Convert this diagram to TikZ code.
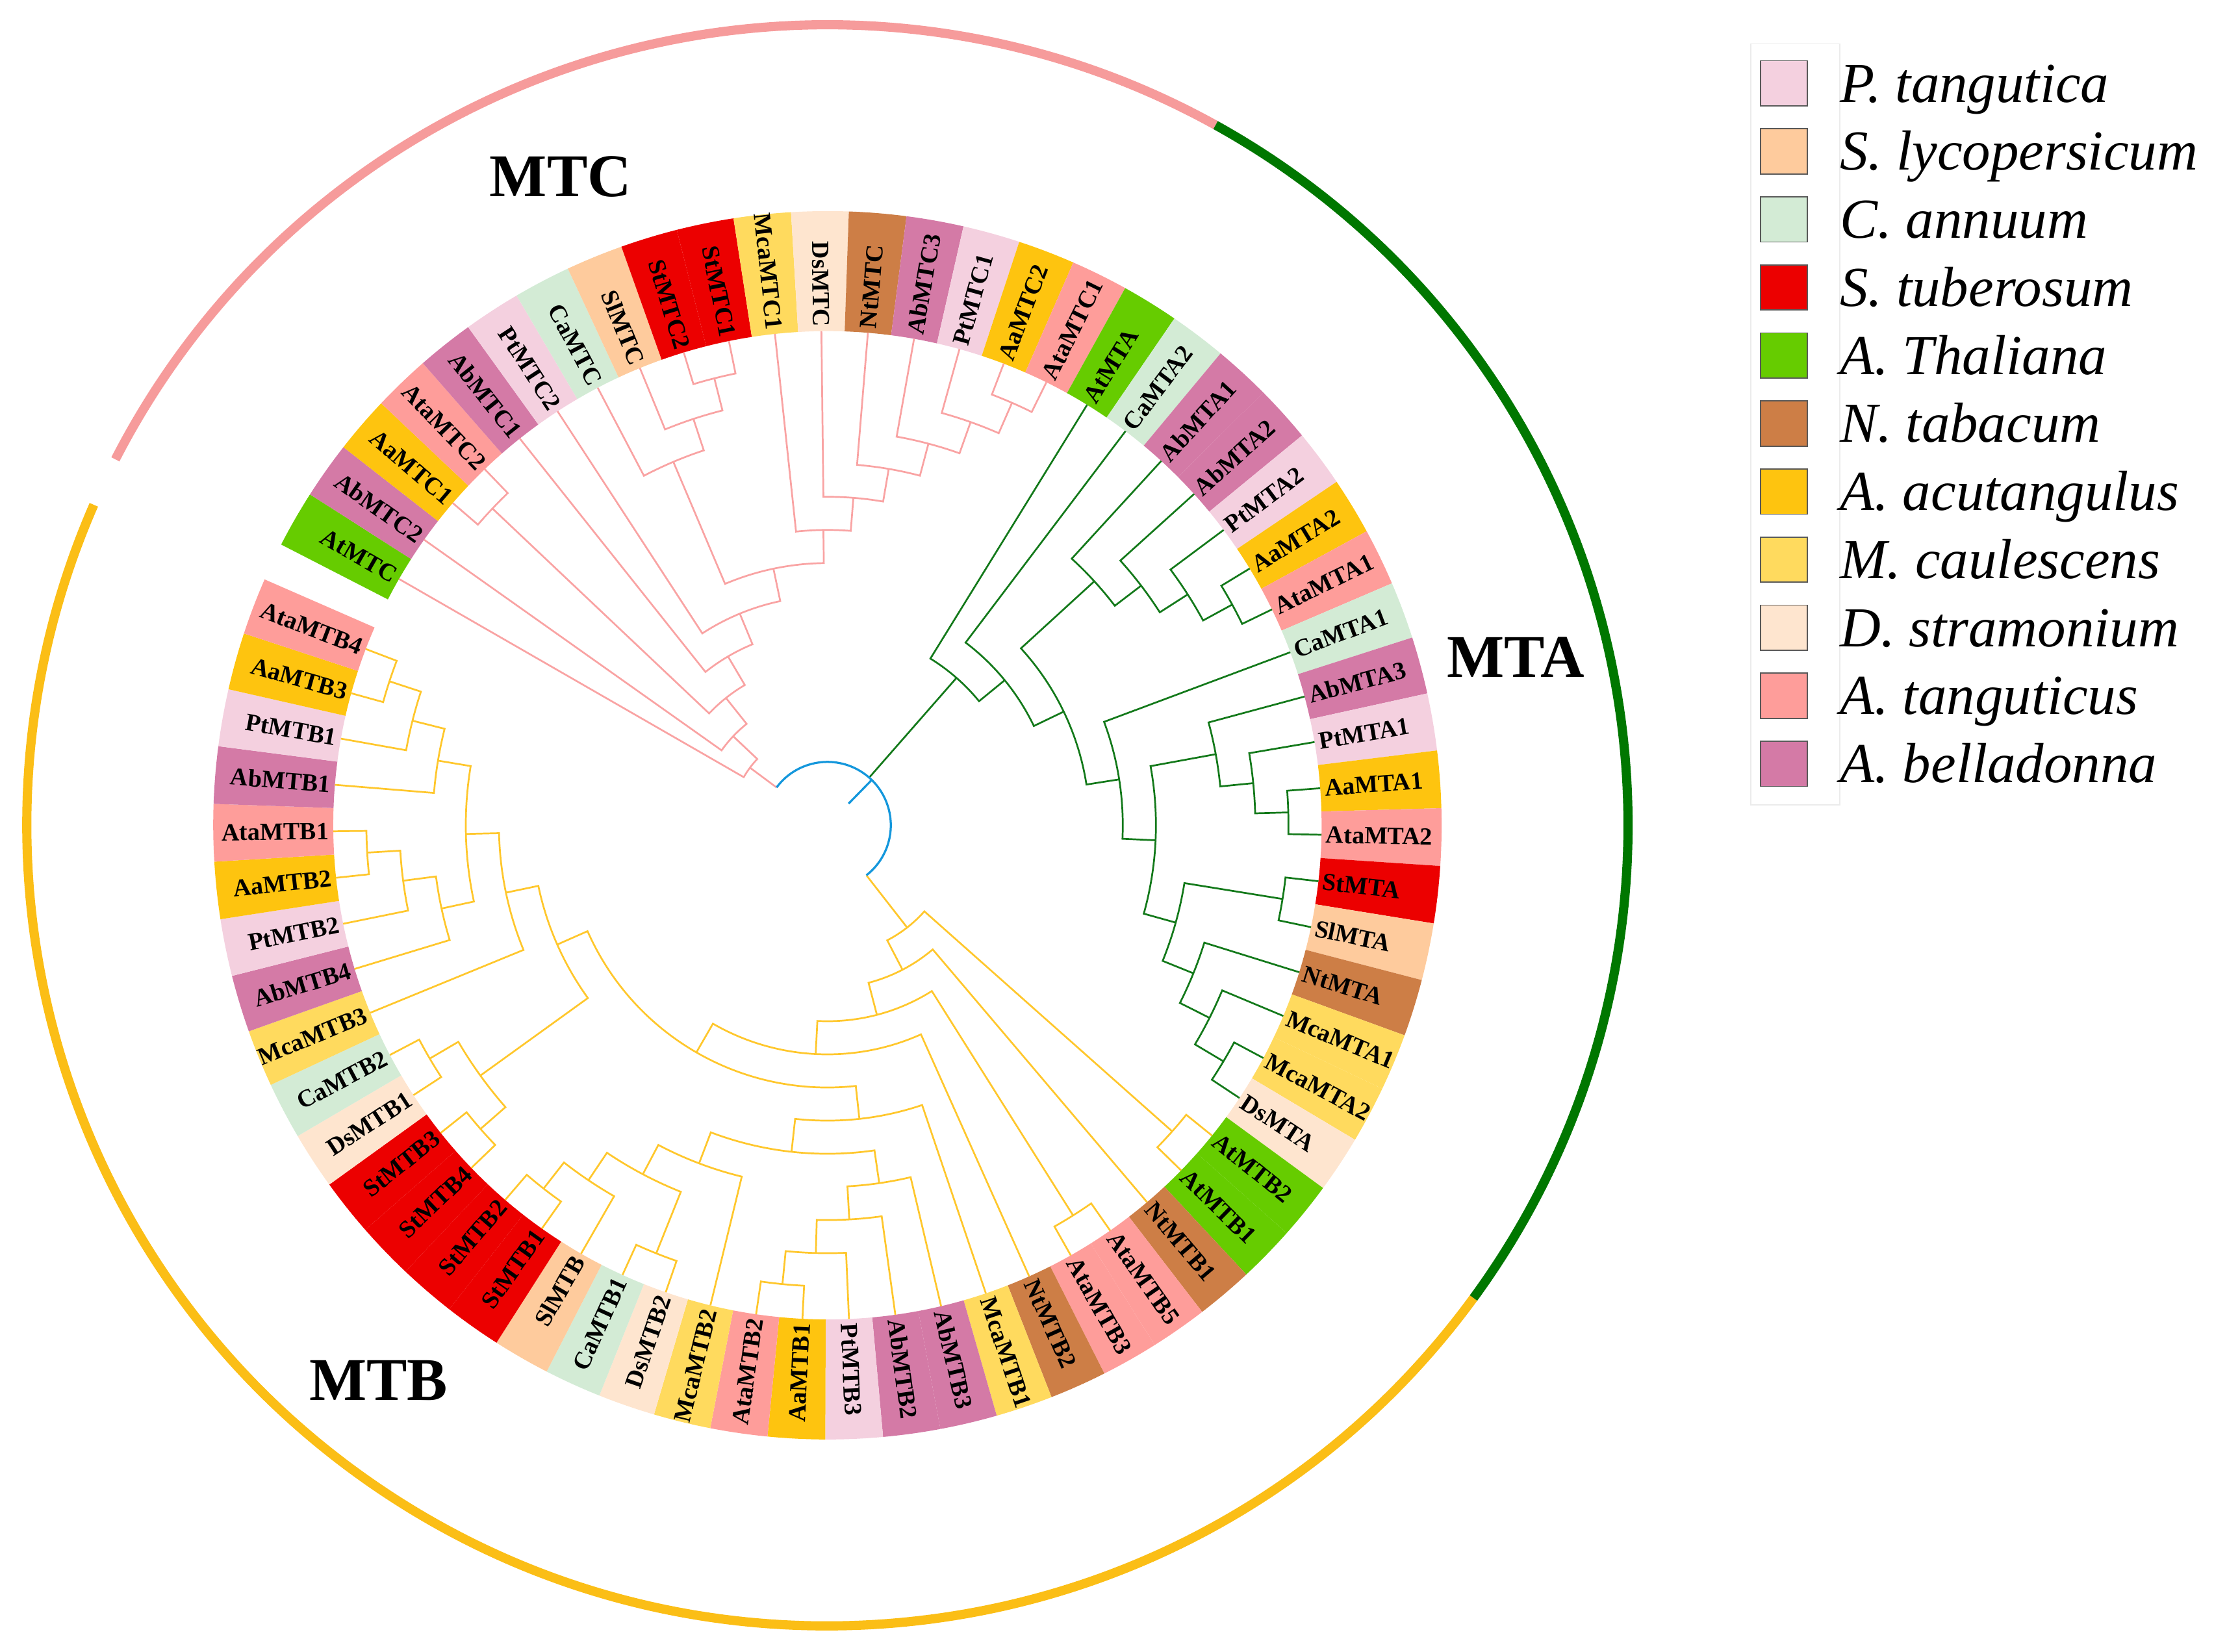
\documentclass[tikz,border=0pt]{standalone}
\usepackage{fontspec}
\setmainfont{Liberation Serif}
\definecolor{ptc}{HTML}{F4D0DF}
\definecolor{slc}{HTML}{FECB9D}
\definecolor{cac}{HTML}{D3EBD5}
\definecolor{stc}{HTML}{EC0000}
\definecolor{atc}{HTML}{66CC00}
\definecolor{ntc}{HTML}{CD7E46}
\definecolor{aac}{HTML}{FEC40F}
\definecolor{mcc}{HTML}{FFDA5E}
\definecolor{dsc}{HTML}{FEE5CF}
\definecolor{tac}{HTML}{FE9D9A}
\definecolor{abc}{HTML}{D47AA6}
\definecolor{mtcline}{HTML}{F9A3A3}
\definecolor{mtaline}{HTML}{13791A}
\definecolor{mtbline}{HTML}{FFC72C}
\definecolor{rootline}{HTML}{1497DC}
\definecolor{ringc}{HTML}{F69B9B}
\definecolor{ringa}{HTML}{007700}
\definecolor{ringb}{HTML}{FBBE16}
\def\setang#1#2{\expandafter\xdef\csname tang-#1\endcsname{#2}}
\def\getang#1{\csname tang-#1\endcsname}
% leaf: name, index, colour
\newcommand\tleaf[3]{%
  \pgfmathsetmacro\la{150.1-5.4*#2}%
  \pgfmathsetmacro\lb{\la+2.7}%
  \pgfmathsetmacro\lc{\la-2.7}%
  \setang{#1}{\la}%
  \fill[#3] (\lb:350pt) arc[start angle=\lb, end angle=\lc, radius=350pt] -- (\lc:435pt) arc[start angle=\lc, end angle=\lb, radius=435pt] -- cycle;
  \coordinate (#1) at (\la:350pt);
  \pgfmathtruncatemacro\lside{cos(\la)<0}%
  \ifnum\lside=1
    \pgfmathsetmacro\lr{\la+180}%
    \node[leaflab, anchor=east, rotate=\lr] (#1-t) at (\la:353pt) {#1};
  \else
    \node[leaflab, anchor=west, rotate=\la] (#1-t) at (\la:353pt) {#1};
  \fi
}
% join: name, height, child A, child B
\newcommand\tjoin[4]{%
  \edef\ja{\getang{#3}}\edef\jb{\getang{#4}}%
  \pgfmathsetmacro\jm{(\ja+\jb)/2}%
  \pgfmathsetmacro\jr{350-23.47*#2}%
  \setang{#1}{\jm}%
  \coordinate (#1) at (\jm:\jr pt);
  \draw (#3) -- (\ja:\jr pt) arc[start angle=\ja, end angle=\jb, radius=\jr pt] -- (#4);
}
\begin{document}
\begin{tikzpicture}[
  leaflab/.style={font=\fontsize{17.5}{17.5}\selectfont\bfseries, inner sep=0pt, text=black},
  legtext/.style={font=\fontsize{40}{40}\selectfont\itshape, anchor=base west, inner sep=0pt},
  cladelab/.style={font=\fontsize{43}{43}\selectfont\bfseries, inner sep=0pt},
  swatch/.style={draw=black!65, line width=0.8pt, minimum width=33pt, minimum height=32pt, inner sep=0pt},
  ring/.style={line width=6.5pt},
  tree/.style={line width=1.25pt},
]
\useasboundingbox (-586pt,-585.5pt) rectangle (982pt,584.5pt);

% ---------- leaves ----------
\tleaf{AtMTC}{0}{atc}
\tleaf{AbMTC2}{1}{abc}
\tleaf{AaMTC1}{2}{aac}
\tleaf{AtaMTC2}{3}{tac}
\tleaf{AbMTC1}{4}{abc}
\tleaf{PtMTC2}{5}{ptc}
\tleaf{CaMTC}{6}{cac}
\tleaf{SlMTC}{7}{slc}
\tleaf{StMTC2}{8}{stc}
\tleaf{StMTC1}{9}{stc}
\tleaf{McaMTC1}{10}{mcc}
\tleaf{DsMTC}{11}{dsc}
\tleaf{NtMTC}{12}{ntc}
\tleaf{AbMTC3}{13}{abc}
\tleaf{PtMTC1}{14}{ptc}
\tleaf{AaMTC2}{15}{aac}
\tleaf{AtaMTC1}{16}{tac}
\tleaf{AtMTA}{17}{atc}
\tleaf{CaMTA2}{18}{cac}
\tleaf{AbMTA1}{19}{abc}
\tleaf{AbMTA2}{20}{abc}
\tleaf{PtMTA2}{21}{ptc}
\tleaf{AaMTA2}{22}{aac}
\tleaf{AtaMTA1}{23}{tac}
\tleaf{CaMTA1}{24}{cac}
\tleaf{AbMTA3}{25}{abc}
\tleaf{PtMTA1}{26}{ptc}
\tleaf{AaMTA1}{27}{aac}
\tleaf{AtaMTA2}{28}{tac}
\tleaf{StMTA}{29}{stc}
\tleaf{SlMTA}{30}{slc}
\tleaf{NtMTA}{31}{ntc}
\tleaf{McaMTA1}{32}{mcc}
\tleaf{McaMTA2}{33}{mcc}
\tleaf{DsMTA}{34}{dsc}
\tleaf{AtMTB2}{35}{atc}
\tleaf{AtMTB1}{36}{atc}
\tleaf{NtMTB1}{37}{ntc}
\tleaf{AtaMTB5}{38}{tac}
\tleaf{AtaMTB3}{39}{tac}
\tleaf{NtMTB2}{40}{ntc}
\tleaf{McaMTB1}{41}{mcc}
\tleaf{AbMTB3}{42}{abc}
\tleaf{AbMTB2}{43}{abc}
\tleaf{PtMTB3}{44}{ptc}
\tleaf{AaMTB1}{45}{aac}
\tleaf{AtaMTB2}{46}{tac}
\tleaf{McaMTB2}{47}{mcc}
\tleaf{DsMTB2}{48}{dsc}
\tleaf{CaMTB1}{49}{cac}
\tleaf{SlMTB}{50}{slc}
\tleaf{StMTB1}{51}{stc}
\tleaf{StMTB2}{52}{stc}
\tleaf{StMTB4}{53}{stc}
\tleaf{StMTB3}{54}{stc}
\tleaf{DsMTB1}{55}{dsc}
\tleaf{CaMTB2}{56}{cac}
\tleaf{McaMTB3}{57}{mcc}
\tleaf{AbMTB4}{58}{abc}
\tleaf{PtMTB2}{59}{ptc}
\tleaf{AaMTB2}{60}{aac}
\tleaf{AtaMTB1}{61}{tac}
\tleaf{AbMTB1}{62}{abc}
\tleaf{PtMTB1}{63}{ptc}
\tleaf{AaMTB3}{64}{aac}
\tleaf{AtaMTB4}{65}{tac}

% ---------- MTC clade ----------
\begin{scope}[tree, color=mtcline]
\tjoin{c1}{1}{AaMTC1}{AtaMTC2}
\tjoin{c2}{1}{StMTC2}{StMTC1}
\tjoin{c3}{2}{SlMTC}{c2}
\tjoin{c4}{3}{CaMTC}{c3}
\tjoin{p1}{1}{AaMTC2}{AtaMTC1}
\tjoin{p2}{2}{PtMTC1}{p1}
\tjoin{p3}{3}{AbMTC3}{p2}
\tjoin{p4}{4}{NtMTC}{p3}
\tjoin{p5}{5}{DsMTC}{p4}
\tjoin{n7}{6}{McaMTC1}{p5}
\tjoin{n6}{7}{c4}{n7}
\tjoin{n5}{8}{PtMTC2}{n6}
\tjoin{n4}{9}{AbMTC1}{n5}
\tjoin{n3}{10}{c1}{n4}
\tjoin{n2}{11}{AbMTC2}{n3}
\tjoin{n1}{12}{AtMTC}{n2}
\end{scope}

% ---------- MTA clade ----------
\begin{scope}[tree, color=mtaline]
\tjoin{a1}{1}{AaMTA2}{AtaMTA1}
\tjoin{a2}{2}{PtMTA2}{a1}
\tjoin{a3}{3}{AbMTA2}{a2}
\tjoin{a4}{4}{AbMTA1}{a3}
\tjoin{b1}{1}{AaMTA1}{AtaMTA2}
\tjoin{b2}{2}{PtMTA1}{b1}
\tjoin{b3}{3}{AbMTA3}{b2}
\tjoin{d1}{1}{StMTA}{SlMTA}
\tjoin{d4}{1}{McaMTA2}{DsMTA}
\tjoin{d3}{2}{McaMTA1}{d4}
\tjoin{d2}{3}{NtMTA}{d3}
\tjoin{dd}{4}{d1}{d2}
\tjoin{m5}{5}{b3}{dd}
\tjoin{m4}{6}{CaMTA1}{m5}
\tjoin{m3}{7}{a4}{m4}
\tjoin{m2}{8}{CaMTA2}{m3}
\tjoin{m1}{9}{AtMTA}{m2}
\end{scope}

% ---------- MTB clade ----------
\begin{scope}[tree, color=mtbline]
\tjoin{y1}{1}{AtMTB2}{AtMTB1}
\tjoin{y2}{1}{AtaMTB5}{AtaMTB3}
\tjoin{r7}{1}{AaMTB1}{AtaMTB2}
\tjoin{r6}{2}{PtMTB3}{r7}
\tjoin{r5}{3}{AbMTB2}{r6}
\tjoin{r3}{4}{AbMTB3}{r5}
\tjoin{r11}{1}{DsMTB2}{CaMTB1}
\tjoin{r12}{1}{StMTB1}{StMTB2}
\tjoin{r10}{2}{SlMTB}{r12}
\tjoin{r8}{3}{r11}{r10}
\tjoin{r4}{4}{McaMTB2}{r8}
\tjoin{r2}{5}{r3}{r4}
\tjoin{rr}{6}{McaMTB1}{r2}
\tjoin{l4}{1}{StMTB4}{StMTB3}
\tjoin{l3}{1}{DsMTB1}{CaMTB2}
\tjoin{l2}{2}{l4}{l3}
\tjoin{l11}{1}{AaMTB2}{AtaMTB1}
\tjoin{l10}{2}{PtMTB2}{l11}
\tjoin{l8}{3}{AbMTB4}{l10}
\tjoin{q1}{1}{AaMTB3}{AtaMTB4}
\tjoin{q2}{2}{PtMTB1}{q1}
\tjoin{l9}{3}{AbMTB1}{q2}
\tjoin{l7}{4}{l8}{l9}
\tjoin{l1}{5}{McaMTB3}{l7}
\tjoin{ll}{6}{l2}{l1}
\tjoin{x4}{7}{rr}{ll}
\tjoin{x3}{8}{NtMTB2}{x4}
\tjoin{x2}{9}{y2}{x3}
\tjoin{xx}{10}{NtMTB1}{x2}
\tjoin{t0}{11}{y1}{xx}
\end{scope}

% ---------- root ----------
\edef\angc{\getang{n1}}\edef\anga{\getang{m1}}\edef\angb{\getang{t0}}
\pgfmathsetmacro\rootr{350-23.47*13}
\pgfmathsetmacro\stubr{350-23.47*14}
\pgfmathsetmacro\roota{(\angc+\angb)/2}
\coordinate (root) at (\roota:\rootr pt);
\coordinate (rootstub) at (\roota:\stubr pt);
\draw[tree, mtcline] (n1) -- (\angc:\rootr pt);
\draw[tree, mtaline] (m1) -- (\anga:\rootr pt);
\draw[tree, mtbline] (t0) -- (\angb:\rootr pt);
\draw[line width=1.5pt, rootline] (\angc:\rootr pt) arc[start angle=\angc, end angle=\angb, radius=\rootr pt];
\draw[line width=1.5pt, rootline] (rootstub) -- (root);

% ---------- outer ring ----------
\draw[ring, ringc] (152.8:567pt) arc[start angle=152.8, end angle=61.0, radius=567pt];
\draw[ring, ringa] (61.0:567pt) arc[start angle=61.0, end angle=-36.2, radius=567pt];
\draw[ring, ringb] (-36.2:567pt) arc[start angle=-36.2, end angle=-203.6, radius=567pt];

% ---------- clade labels ----------
\node[cladelab] (mtclab) at (-189pt,459.5pt) {MTC};
\node[cladelab] (mtalab) at (487.5pt,119pt) {MTA};
\node[cladelab] (mtblab) at (-318pt,-393pt) {MTB};

% ---------- legend ----------
\draw[black!8, line width=0.7pt] (654pt,553.5pt) rectangle (717pt,14.5pt);
\foreach \c/\t [count=\i from 0] in {ptc/P. tangutica, slc/S. lycopersicum, cac/C. annuum, stc/S. tuberosum, atc/A. Thaliana, ntc/N. tabacum, aac/A. acutangulus, mcc/M. caulescens, dsc/D. stramonium, tac/A. tanguticus, abc/A. belladonna}{
  \pgfmathsetmacro\yc{525.5-48.2*\i}
  \node[swatch, fill=\c] (sw\i) at (677.5pt,\yc pt) {};
  \node[legtext] (lg\i) at (717pt,\yc pt-13.3pt) {\t};
}
\end{tikzpicture}
\end{document}
